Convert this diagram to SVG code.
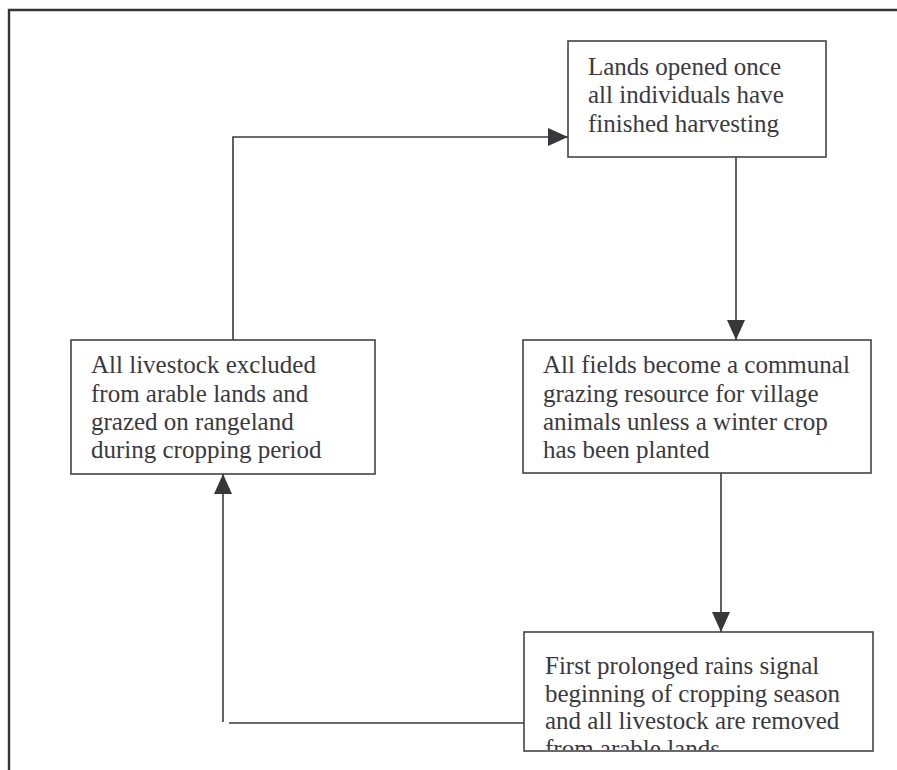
<svg xmlns="http://www.w3.org/2000/svg" width="897" height="770" viewBox="0 0 897 770">
<style>
  .box { fill: #ffffff; stroke: #444448; stroke-width: 1.6; }
  .lbl { font-family: "Liberation Serif", "Times New Roman", serif; font-size: 25px; fill: #3a3a3e; }
  .conn { fill: none; stroke: #3a3a3e; stroke-width: 1.6; }
  .frame { fill: none; stroke: #353538; stroke-width: 2.4; }
</style>
<defs>
  <marker id="arrow" markerUnits="userSpaceOnUse" markerWidth="20" markerHeight="18" refX="20" refY="9" orient="auto">
    <path d="M0,0 L20,9 L0,18 Z" fill="#38383c"/>
  </marker>
  <clipPath id="clip4"><rect x="525" y="633" width="347" height="117"/></clipPath>
</defs>
<rect width="897" height="770" fill="#ffffff"/>
<path class="frame" d="M9,770 L9,10 L897,10"/>

<g id="connectors">
  <path class="conn" d="M233,340 L233,137 L568,137" marker-end="url(#arrow)"/>
  <path class="conn" d="M736,157 L736,340" marker-end="url(#arrow)"/>
  <path class="conn" d="M721,473 L721,632" marker-end="url(#arrow)"/>
  <path class="conn" d="M524,723 L229,723"/>
  <path class="conn" d="M223,722 L223,474" marker-end="url(#arrow)"/>
</g>

<g id="node-lands-opened">
  <rect class="box" x="568" y="41" width="258" height="116"/>
  <text class="lbl" x="588" y="75">Lands opened once</text>
  <text class="lbl" x="588" y="103.3">all individuals have</text>
  <text class="lbl" x="588" y="131.6">finished harvesting</text>
</g>

<g id="node-livestock-excluded">
  <rect class="box" x="71" y="340" width="304" height="134"/>
  <text class="lbl" x="91" y="373.3">All livestock excluded</text>
  <text class="lbl" x="91" y="401.6">from arable lands and</text>
  <text class="lbl" x="91" y="429.9">grazed on rangeland</text>
  <text class="lbl" x="91" y="458.2">during cropping period</text>
</g>

<g id="node-communal-grazing">
  <rect class="box" x="523" y="340" width="348" height="133"/>
  <text class="lbl" x="543" y="373.3">All fields become a communal</text>
  <text class="lbl" x="543" y="401.6">grazing resource for village</text>
  <text class="lbl" x="543" y="429.9">animals unless a winter crop</text>
  <text class="lbl" x="543" y="458.2">has been planted</text>
</g>

<g id="node-first-rains">
  <rect class="box" x="524" y="632" width="349" height="119"/>
  <g clip-path="url(#clip4)">
    <text class="lbl" x="545" y="674">First prolonged rains signal</text>
    <text class="lbl" x="545" y="701.7">beginning of cropping season</text>
    <text class="lbl" x="545" y="729.4">and all livestock are removed</text>
    <text class="lbl" x="545" y="757.1">from arable lands</text>
  </g>
</g>
</svg>
